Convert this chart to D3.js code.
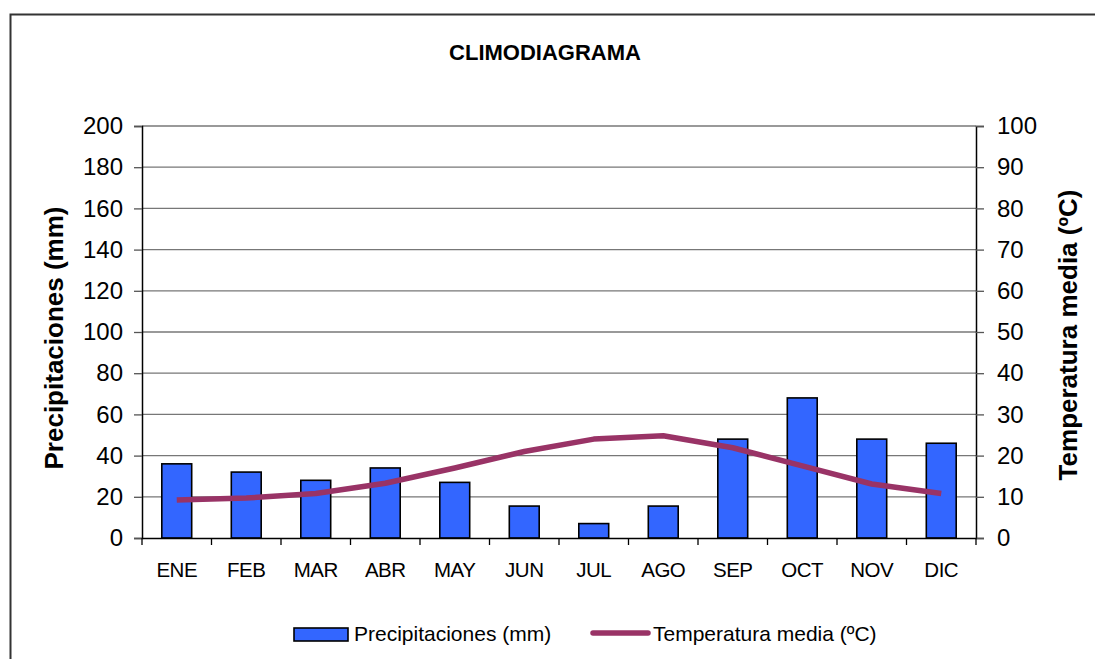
<!DOCTYPE html>
<html>
<head>
<meta charset="utf-8">
<script src="https://cdn.jsdelivr.net/npm/d3@7"></script>
<style>
  body { margin: 0; background: #fff; }
  text { font-family: "Liberation Sans", Arial, sans-serif; }
</style>
</head>
<body>
<svg id="chart" width="1095" height="659"></svg>
<script>
var months = ["ENE","FEB","MAR","ABR","MAY","JUN","JUL","AGO","SEP","OCT","NOV","DIC"];
var precip = [36, 32, 28, 34, 27, 15.5, 7, 15.5, 48, 68, 48, 46];
var temp = [9.2, 9.7, 10.8, 13.3, 17, 21, 24, 24.8, 21.9, 17.5, 13.1, 10.8];
var precipTicks = [0, 20, 40, 60, 80, 100, 120, 140, 160, 180, 200];
var tempTicks = [0, 10, 20, 30, 40, 50, 60, 70, 80, 90, 100];

var svg = d3.select("#chart");

// outer frame
svg.append("rect").attr("x", 10.5).attr("y", 14.5).attr("width", 1100).attr("height", 700)
  .attr("fill", "none").attr("stroke", "#333").attr("stroke-width", 2);

var plotL = 142, plotR = 976, plotT = 126, plotB = 538;

var x = d3.scaleBand().domain(months).range([plotL, plotR]);
var yL = d3.scaleLinear().domain([0, 200]).range([plotB, plotT]);
var yR = d3.scaleLinear().domain([0, 100]).range([plotB, plotT]);

// gridlines
svg.append("g").selectAll("line").data(precipTicks.slice(1)).enter().append("line")
  .attr("x1", plotL).attr("x2", plotR)
  .attr("y1", d => yL(d)).attr("y2", d => yL(d))
  .attr("stroke", "#777").attr("stroke-width", 1.3);

// left axis
var axL = svg.append("g").attr("transform", "translate(" + plotL + ",0)")
  .call(d3.axisLeft(yL).tickValues(precipTicks).tickSize(8).tickPadding(11));
axL.select(".domain").attr("stroke", "#000").attr("stroke-width", 1.5);
axL.selectAll(".tick line").attr("stroke", "#555").attr("stroke-width", 1.3);
axL.selectAll("text").attr("font-size", 24).attr("fill", "#000")
  .style("font-family", "Liberation Sans, Arial, sans-serif");

// right axis
var axR = svg.append("g").attr("transform", "translate(" + plotR + ",0)")
  .call(d3.axisRight(yR).tickValues(tempTicks).tickSize(8).tickPadding(13));
axR.select(".domain").attr("stroke", "#000").attr("stroke-width", 1.5);
axR.selectAll(".tick line").attr("stroke", "#555").attr("stroke-width", 1.3);
axR.selectAll("text").attr("font-size", 24).attr("fill", "#000")
  .style("font-family", "Liberation Sans, Arial, sans-serif");

// bars
var bw = x.bandwidth() * 0.43;
svg.append("g").selectAll("rect").data(months).enter().append("rect")
  .attr("x", (d) => x(d) + x.bandwidth() / 2 - bw / 2)
  .attr("y", (d, i) => yL(precip[i]))
  .attr("width", bw)
  .attr("height", (d, i) => plotB - yL(precip[i]))
  .attr("fill", "#3366FF").attr("stroke", "#000").attr("stroke-width", 1.6);

// bottom axis
var axB = svg.append("g").attr("transform", "translate(0," + plotB + ")")
  .call(d3.axisBottom(x).tickSize(0).tickPadding(24));
axB.select(".domain").attr("stroke", "#000").attr("stroke-width", 1.5);
axB.selectAll("text").attr("font-size", 20.5).attr("fill", "#000")
  .attr("letter-spacing", -0.5)
  .style("font-family", "Liberation Sans, Arial, sans-serif");
svg.append("g").selectAll("line").data(d3.range(months.length + 1)).enter().append("line")
  .attr("x1", i => plotL + i * x.step()).attr("x2", i => plotL + i * x.step())
  .attr("y1", plotB).attr("y2", plotB + 7)
  .attr("stroke", "#000").attr("stroke-width", 1.3);

// temperature line
var line = d3.line()
  .x((d, i) => x(months[i]) + x.bandwidth() / 2)
  .y(d => yR(d));
svg.append("path").datum(temp).attr("d", line)
  .attr("fill", "none").attr("stroke", "#993366").attr("stroke-width", 5.5)
  .attr("stroke-linejoin", "round");

// title
svg.append("text").attr("x", 545).attr("y", 60).attr("text-anchor", "middle")
  .attr("font-size", 22).attr("font-weight", "bold").text("CLIMODIAGRAMA");

// axis titles
svg.append("text").attr("transform", "translate(63,338) rotate(-90)")
  .attr("text-anchor", "middle").attr("font-size", 26).attr("font-weight", "bold")
  .text("Precipitaciones (mm)");
svg.append("text").attr("transform", "translate(1077,335) rotate(-90)")
  .attr("text-anchor", "middle").attr("font-size", 26).attr("font-weight", "bold")
  .text("Temperatura media (ºC)");

// legend
svg.append("rect").attr("x", 294).attr("y", 628).attr("width", 54).attr("height", 13)
  .attr("fill", "#3366FF").attr("stroke", "#000").attr("stroke-width", 1.6);
svg.append("text").attr("x", 354).attr("y", 641).attr("font-size", 21)
  .text("Precipitaciones (mm)");
svg.append("line").attr("x1", 593).attr("x2", 648).attr("y1", 633).attr("y2", 633)
  .attr("stroke", "#993366").attr("stroke-width", 5.5).attr("stroke-linecap", "round");
svg.append("text").attr("x", 653).attr("y", 641).attr("font-size", 21)
  .text("Temperatura media (ºC)");
</script>
</body>
</html>
